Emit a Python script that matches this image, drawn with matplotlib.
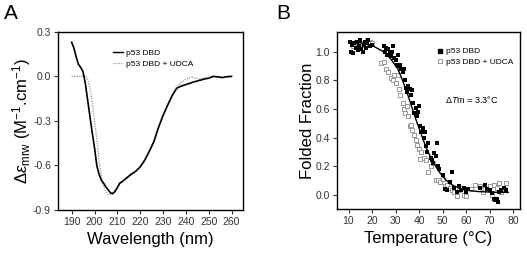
import matplotlib
matplotlib.use("Agg")
import matplotlib.pyplot as plt
from matplotlib.lines import Line2D

plt.rcParams["font.family"] = ["Liberation Sans", "DejaVu Sans"]
plt.rcParams["mathtext.fontset"] = "custom"
plt.rcParams["mathtext.rm"] = "Liberation Sans"
plt.rcParams["mathtext.it"] = "Liberation Sans:italic"

# ── Panel A: CD spectra ───────────────────────────────────────────────────────
wl_dbd = [190, 191, 192, 193, 194, 195, 196, 197, 198, 199, 200, 201, 202, 203,
          204, 205, 206, 207, 208, 209, 210, 211, 212, 214, 216, 218, 220, 222,
          224, 226, 228, 230, 232, 234, 236, 238, 240, 242, 244, 246, 248, 250,
          252, 254, 256, 258, 260]
cd_dbd = [0.23, 0.19, 0.13, 0.08, 0.06, 0.03, -0.05, -0.16, -0.27, -0.38, -0.48,
          -0.60, -0.66, -0.70, -0.72, -0.745, -0.765, -0.785, -0.79, -0.775,
          -0.75, -0.72, -0.71, -0.685, -0.66, -0.64, -0.61, -0.565, -0.505,
          -0.44, -0.345, -0.265, -0.195, -0.13, -0.08, -0.065, -0.055, -0.045,
          -0.035, -0.027, -0.018, -0.012, 0.0, -0.003, -0.008, -0.002, 0.0]

wl_udca = [190, 192, 194, 196, 197, 198, 199, 200, 201, 202, 203, 204, 205, 206,
           207, 208, 209, 210, 212, 214, 216, 218, 220, 222, 224, 226, 228, 230,
           232, 234, 236, 238, 240, 242, 244, 246, 248, 250, 252, 254, 256, 258, 260]
cd_udca = [0.0, 0.0, 0.0, 0.005, -0.02, -0.08, -0.17, -0.30, -0.42, -0.57, -0.67,
           -0.74, -0.78, -0.795, -0.795, -0.785, -0.765, -0.745, -0.715, -0.69,
           -0.665, -0.64, -0.605, -0.56, -0.5, -0.43, -0.34, -0.26, -0.19, -0.125,
           -0.07, -0.04, -0.02, -0.005, -0.01, -0.02, -0.012, -0.01, 0.0, -0.005,
           -0.008, -0.003, 0.0]

# ── Panel B: thermal denaturation ─────────────────────────────────────────────
t_dbd = [10.5, 11, 11.5, 12, 12.5, 13, 13.5, 14, 14.5, 15, 15.5, 16, 16.5, 17,
         17.5, 18, 18.5, 19, 20,
         25, 25.5, 26, 26.5, 27, 27.5, 28, 28.5, 29, 29.5, 30, 30.5, 31, 31.5,
         32, 32.5, 33, 33.5, 34, 34.5,
         35, 35.5, 36, 36.5, 37, 37.5, 38, 38.5, 39, 39.5, 40, 40.5, 41, 41.5,
         42, 42.5, 43, 43.5, 44, 45, 45.5, 46, 46.5, 47, 47.5, 48, 48.5,
         50, 51, 52, 53, 54, 55, 56, 57, 58, 59, 60, 61,
         66, 68, 69, 70, 71, 72, 72.5, 73, 73.5, 74, 75, 76, 77]
f_dbd = [1.07, 1.0, 1.05, 0.99, 1.06, 1.03, 1.07, 1.01, 1.04, 1.08, 1.02, 1.0,
         1.05, 1.07, 1.03, 1.06, 1.08, 1.04, 1.05,
         1.04, 1.0, 1.03, 0.98, 1.02, 1.0, 0.97, 1.0, 1.04, 0.96, 0.94, 0.91,
         0.98, 0.90, 0.91, 0.88, 0.86, 0.88, 0.80, 0.75,
         0.72, 0.76, 0.74, 0.70, 0.73, 0.64, 0.57, 0.61, 0.55, 0.58, 0.62, 0.48,
         0.44, 0.47, 0.40, 0.44, 0.34, 0.30, 0.36, 0.26, 0.24, 0.22, 0.29, 0.27,
         0.36, 0.20, 0.18,
         0.14, 0.04, 0.03, 0.09, 0.16, 0.05, 0.02, 0.06, 0.03, 0.05, 0.02, 0.04,
         0.05, 0.07, 0.04, 0.03, 0.01, -0.03, -0.04, -0.03, -0.05, 0.02, 0.03,
         0.05, 0.03]

t_udca = [12, 13, 14, 15, 16, 17, 18, 19, 20,
          24, 25, 26, 27, 28, 29, 29.5, 30, 31, 31.5, 32, 33, 33.5, 34, 35, 35.5,
          36, 36.5, 37, 38, 38.5, 39, 40, 40.5, 41, 42, 43, 44, 45, 46, 47, 48,
          49, 50, 51, 52, 53, 54, 55, 56, 57, 58, 59, 60, 62, 64, 66, 67, 68, 70,
          71, 72, 73, 74, 75, 76, 77]
f_udca = [1.04, 1.07, 1.05, 1.03, 1.06, 1.05, 1.08, 1.07, 1.06,
          0.92, 0.93, 0.88, 0.86, 0.82, 0.80, 0.84, 0.78, 0.84, 0.74, 0.70, 0.64,
          0.60, 0.57, 0.62, 0.55, 0.48, 0.49, 0.45, 0.42, 0.38, 0.35, 0.32, 0.25,
          0.30, 0.26, 0.24, 0.16, 0.20, 0.22, 0.10, 0.10, 0.09, 0.11, 0.06, 0.07,
          0.05, 0.03, 0.02, -0.01, 0.03, 0.05, 0.0, -0.01, 0.04, 0.07, 0.06, 0.02,
          0.04, 0.06, 0.0, 0.07, 0.05, 0.08, 0.02, 0.04, 0.08]

# fitted curve
t_fit = [10, 15, 20, 25, 28, 31, 33, 35, 37, 39, 41, 43, 45, 47, 49, 51, 53, 55,
         58, 61, 65, 70, 75, 78]
f_fit = [1.07, 1.065, 1.045, 1.0, 0.95, 0.88, 0.80, 0.71, 0.61, 0.51, 0.42, 0.33,
         0.26, 0.20, 0.15, 0.11, 0.08, 0.06, 0.042, 0.03, 0.022, 0.018, 0.016, 0.016]

fig = plt.figure(figsize=(5.27, 2.57), dpi=100)

axA = fig.add_axes([0.110, 0.183, 0.351, 0.693])
axB = fig.add_axes([0.639, 0.187, 0.348, 0.689])

for ax in (axA, axB):
    for sp in ax.spines.values():
        sp.set_linewidth(1.0)
    ax.tick_params(direction="out", length=3, width=0.8, labelsize=7.5, pad=2,
                   colors="#333333", labelcolor="#333333")

# Panel A
axA.plot(wl_udca, cd_udca, color="#999999", linestyle=(0, (1, 1)), linewidth=0.9)
axA.plot(wl_dbd, cd_dbd, color="black", linewidth=1.2)
axA.set_xlim(184, 265)
axA.set_ylim(-0.9, 0.3)
axA.set_xticks(range(190, 261, 10))
axA.set_yticks([-0.9, -0.6, -0.3, 0.0, 0.3])
axA.set_yticklabels(["-0.9", "-0.6", "-0.3", "0.0", "0.3"])
axA.set_xlabel("Wavelength (nm)", fontsize=12, labelpad=4)
axA.set_ylabel(r"$\Delta\varepsilon_{\mathrm{mrw}}$ (M$^{-1}$.cm$^{-1}$)", fontsize=12,
               labelpad=0)
handles = [Line2D([], [], color="black", linewidth=1.0),
           Line2D([], [], color="#999999", linestyle=(0, (1, 1)), linewidth=0.9)]
axA.legend(handles, ["p53 DBD", "p53 DBD + UDCA"], loc="upper left",
           bbox_to_anchor=(0.28, 0.92), frameon=False, fontsize=6,
           handlelength=1.2, handletextpad=0.4, labelspacing=0.35, borderaxespad=0)

# Panel B
axB.plot(t_fit, f_fit, color="black", linewidth=1.0, zorder=3)
axB.scatter(t_dbd, f_dbd, marker="s", s=10, color="black", linewidths=0, zorder=2)
axB.scatter(t_udca, f_udca, marker="s", s=10, facecolors="white", edgecolors="#888888",
            linewidths=0.6, zorder=1)
axB.set_xlim(5, 83)
axB.set_ylim(-0.1, 1.14)
axB.set_xticks(range(10, 81, 10))
axB.set_yticks([0.0, 0.2, 0.4, 0.6, 0.8, 1.0])
axB.set_xlabel("Temperature (°C)", fontsize=12, labelpad=4)
axB.set_ylabel("Folded Fraction", fontsize=12, labelpad=0)
handlesB = [Line2D([], [], marker="s", markersize=3, color="black", linestyle="none"),
            Line2D([], [], marker="s", markersize=3, markerfacecolor="white",
                   markeredgecolor="#888888", markeredgewidth=0.6, linestyle="none")]
axB.legend(handlesB, ["p53 DBD", "p53 DBD + UDCA"], loc="upper left",
           bbox_to_anchor=(0.53, 0.93), frameon=False, fontsize=6,
           handlelength=0.6, handletextpad=0.4, labelspacing=0.35, borderaxespad=0)
axB.text(0.59, 0.62, r"$\Delta T$m = 3.3°C", transform=axB.transAxes, fontsize=6.5,
         va="center", ha="left")

fig.text(0.008, 0.985, "A", fontsize=15, va="top", ha="left")
fig.text(0.524, 0.985, "B", fontsize=15, va="top", ha="left")

fig.savefig("out.png", dpi=100)
